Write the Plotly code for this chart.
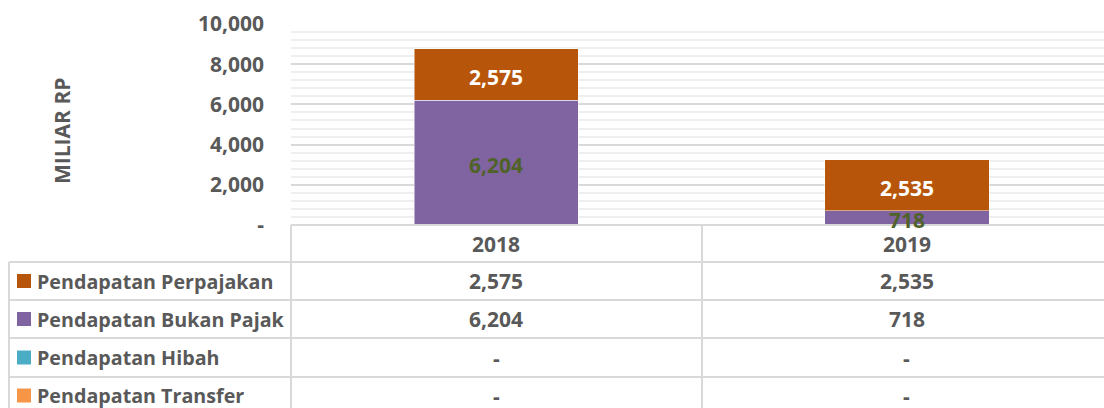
import plotly.graph_objects as go

years = ["2018", "2019"]
series_names = ["Pendapatan Perpajakan", "Pendapatan Bukan Pajak", "Pendapatan Hibah", "Pendapatan Transfer"]
perpajakan = [2575, 2535]
bukan_pajak = [6204, 718]
hibah = [0, 0]
transfer = [0, 0]
y_tickvals = [0, 2000, 4000, 6000, 8000, 10000]
y_ticktext = ["-", "2,000", "4,000", "6,000", "8,000", "10,000"]
y_title = "MILIAR RP"

colors = {"Pendapatan Perpajakan": "#B7560A",
          "Pendapatan Bukan Pajak": "#8064A2",
          "Pendapatan Hibah": "#4BACC6",
          "Pendapatan Transfer": "#F79646"}

W, H = 1104, 408
L, R_PX, T, B_PX = 291, 1104, 24, 225
FONT = "Open Sans"
GREY = "#595959"
LINE = "#D9D9D9"
NUM = 21
LAB = 19.7

def X(px):
    return (px - L) / (R_PX - L)

def Y(py):
    return (B_PX - py) / (B_PX - T)

fig = go.Figure()
series_vals = {"Pendapatan Perpajakan": perpajakan, "Pendapatan Bukan Pajak": bukan_pajak,
               "Pendapatan Hibah": hibah, "Pendapatan Transfer": transfer}
stack_order = ["Pendapatan Transfer", "Pendapatan Hibah", "Pendapatan Bukan Pajak", "Pendapatan Perpajakan"]
for name in stack_order:
    fig.add_trace(go.Bar(x=years, y=series_vals[name], name=name, width=0.4,
                         marker=dict(color=colors[name], line=dict(color="rgba(255,255,255,0.6)", width=0.8)),
                         showlegend=False, hoverinfo="skip"))

shapes = []
ann = []

# data labels at segment centres
base = [t + h for t, h in zip(transfer, hibah)]
mid_bp = [b + v / 2 for b, v in zip(base, bukan_pajak)]
mid_pp = [b + v + p / 2 for b, v, p in zip(base, bukan_pajak, perpajakan)]
for j in range(len(years)):
    ann.append(dict(x=j, xref="x", y=mid_bp[j], yref="y", text=f"{bukan_pajak[j]:,}", showarrow=False,
                    xanchor="center", yanchor="middle", yshift=-2,
                    font=dict(family=FONT, size=NUM, color="#4F6228", weight="bold")))
    ann.append(dict(x=j, xref="x", y=mid_pp[j], yref="y", text=f"{perpajakan[j]:,}", showarrow=False,
                    xanchor="center", yanchor="middle", yshift=-3,
                    font=dict(family=FONT, size=NUM, color="white", weight="bold")))

line = dict(color=LINE, width=2)
# header row
shapes.append(dict(type="line", xref="paper", yref="paper", x0=X(L), x1=X(1104), y0=Y(225), y1=Y(225), line=line))
for vx in [291, 702]:
    shapes.append(dict(type="line", xref="paper", yref="paper", x0=X(vx), x1=X(vx), y0=Y(225), y1=Y(410), line=line))
shapes.append(dict(type="line", xref="paper", yref="paper", x0=X(9), x1=X(9), y0=Y(262), y1=Y(410), line=line))
row_lines = [262, 300, 338, 377]
for ry in row_lines:
    shapes.append(dict(type="line", xref="paper", yref="paper", x0=X(9), x1=X(1104), y0=Y(ry), y1=Y(ry), line=line))

for j, yr in enumerate(years):
    ann.append(dict(x=j, xref="x", y=Y(243.5), yref="paper", text=yr, showarrow=False,
                    xanchor="center", yanchor="middle",
                    font=dict(family=FONT, size=NUM, color=GREY, weight="bold")))

row_centres = [281, 319, 357.5, 395.5]
for i, name in enumerate(series_names):
    cy = row_centres[i]
    shapes.append(dict(type="rect", xref="paper", yref="paper", x0=X(17), x1=X(31), y0=Y(cy - 7), y1=Y(cy + 7),
                       fillcolor=colors[name], line=dict(width=0)))
    ann.append(dict(x=X(34.5), xref="paper", y=Y(cy), yref="paper", text=name, showarrow=False,
                    xanchor="left", yanchor="middle",
                    font=dict(family=FONT, size=LAB, color=GREY, weight="bold")))
    for j, yr in enumerate(years):
        v = series_vals[name][j]
        ann.append(dict(x=j, xref="x", y=Y(cy), yref="paper", text=(f"{v:,}" if v else "-"), showarrow=False,
                        xanchor="center", yanchor="middle",
                        font=dict(family=FONT, size=NUM, color=GREY, weight="bold")))

ann.append(dict(x=X(62), xref="paper", y=Y(131), yref="paper", text=y_title, textangle=-90, showarrow=False,
                xanchor="center", yanchor="middle",
                font=dict(family=FONT, size=NUM, color=GREY, weight="bold")))

fig.update_layout(
    width=W, height=H,
    margin=dict(l=L, r=W - R_PX, t=T, b=H - B_PX, autoexpand=False),
    barmode="stack", bargap=0.6,
    plot_bgcolor="white", paper_bgcolor="white",
    shapes=shapes, annotations=ann,
    xaxis=dict(range=[-0.5, 1.48], showticklabels=False, showgrid=False, zeroline=False, showline=False,
               fixedrange=True),
    yaxis=dict(range=[0, 10000], tickvals=y_tickvals, ticktext=y_ticktext, showgrid=True,
               gridcolor="#D9D9D9", gridwidth=2, zeroline=False, showline=False, ticks="",
               ticklabelstandoff=26,
               tickfont=dict(family=FONT, size=NUM, color=GREY, weight="bold"),
               minor=dict(dtick=400, showgrid=True, gridcolor="#EFEFEF", gridwidth=1.5)),
)
fig.write_html("out.html", config={"displayModeBar": False},
               post_script="document.body.style.margin='0px';")
